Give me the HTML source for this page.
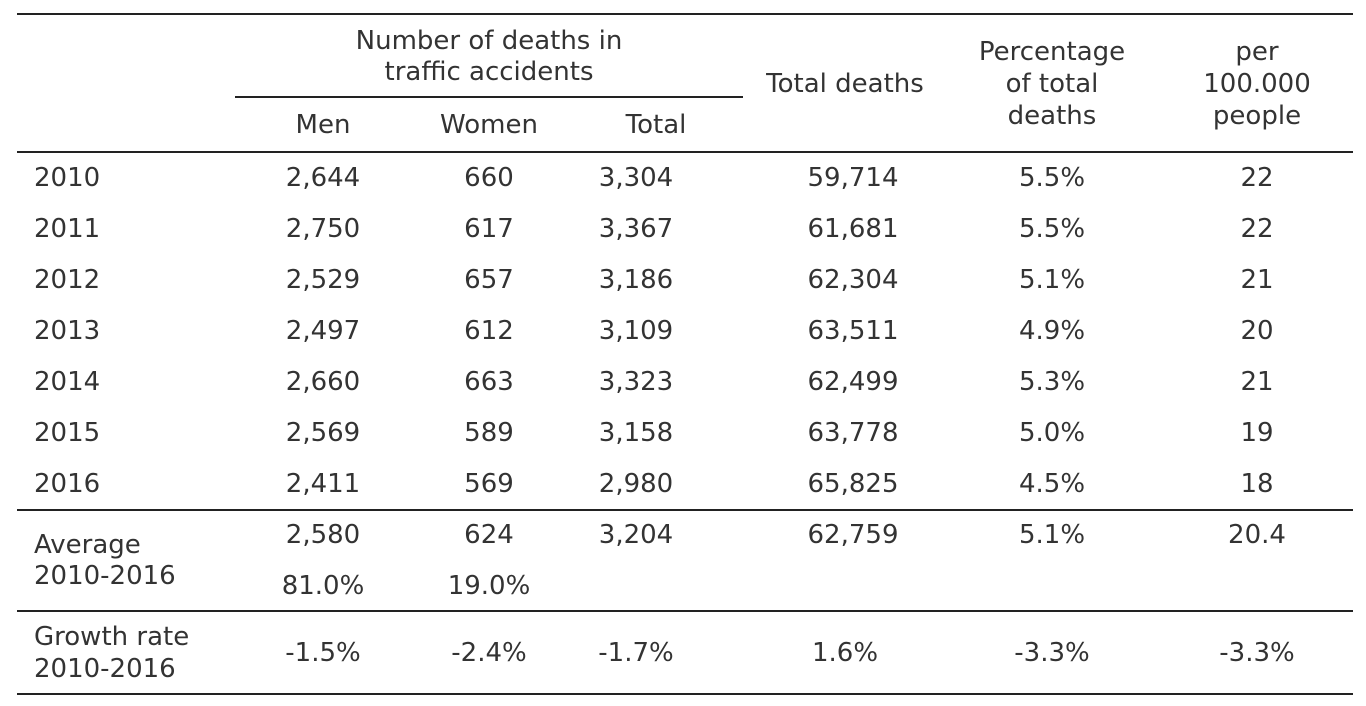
<!DOCTYPE html>
<html><head><meta charset="utf-8">
<style>
html,body{margin:0;padding:0;background:#fff;}
#t{position:relative;width:1366px;height:706px;overflow:hidden;font-family:"DejaVu Sans","Liberation Sans",sans-serif;font-size:26px;color:#333;}
.c{position:absolute;transform:translate(-50%,-50%);white-space:nowrap;line-height:32px;text-align:center;}
.l{position:absolute;transform:translateY(-50%);white-space:nowrap;line-height:32px;}
.h{position:absolute;height:2px;background:#222;}
</style></head>
<body>
<div id="t">
<div class="h" style="left:17px;width:1336px;top:13px"></div>
<div class="h" style="left:235px;width:508px;top:96px"></div>
<div class="h" style="left:17px;width:1336px;top:151px"></div>
<div class="h" style="left:17px;width:1336px;top:509px"></div>
<div class="h" style="left:17px;width:1336px;top:610px"></div>
<div class="h" style="left:17px;width:1336px;top:693px"></div>
</div>
<script>
const years=["2010","2011","2012","2013","2014","2015","2016"];
const men=["2,644","2,750","2,529","2,497","2,660","2,569","2,411"];
const women=["660","617","657","612","663","589","569"];
const totals=["3,304","3,367","3,186","3,109","3,323","3,158","2,980"];
const totalDeaths=["59,714","61,681","62,304","63,511","62,499","63,778","65,825"];
const pct=["5.5%","5.5%","5.1%","4.9%","5.3%","5.0%","4.5%"];
const per100k=["22","22","21","20","21","19","18"];
const avgRow=["2,580","624","3,204","62,759","5.1%","20.4"];
const shareRow=["81.0%","19.0%"];
const growthRow=["-1.5%","-2.4%","-1.7%","1.6%","-3.3%","-3.3%"];
const colX=[323,489,636,853,1052,1257];
const t=document.getElementById('t');
function add(cls,x,y,txt,name){
  const d=document.createElement('div');
  d.className=cls;d.style.left=x+'px';d.style.top=y+'px';d.innerHTML=txt;
  
  
  t.appendChild(d);
}
add('c',489,41,'Number of deaths in','header-group-line1');
add('c',489,72,'traffic accidents','header-group-line2');
add('c',323,125,'Men','header-men');
add('c',489,125,'Women','header-women');
add('c',656,125,'Total','header-total');
add('c',845,84,'Total deaths','header-total-deaths');
add('c',1052,52,'Percentage','header-percentage-1');
add('c',1052,84,'of total','header-percentage-2');
add('c',1052,116,'deaths','header-percentage-3');
add('c',1257,52,'per','header-per-1');
add('c',1257,84,'100.000','header-per-2');
add('c',1257,116,'people','header-per-3');
const cols=[men,women,totals,totalDeaths,pct,per100k];
const colNames=['men','women','total','total-deaths','percentage','per-100k'];
years.forEach((y,i)=>{
  const cy=178+i*51;
  add('l',34,cy,y,'year-'+y);
  cols.forEach((arr,j)=>add('c',colX[j],cy,arr[i],colNames[j]+'-'+y));
});
add('l',34,545,'Average','average-label-1');
add('l',34,576,'2010-2016','average-label-2');
avgRow.forEach((v,j)=>add('c',colX[j],535,v,'average-'+colNames[j]));
shareRow.forEach((v,j)=>add('c',colX[j],586,v,'share-'+colNames[j]));
add('l',34,637,'Growth rate','growth-label-1');
add('l',34,669,'2010-2016','growth-label-2');
growthRow.forEach((v,j)=>add('c',colX[j]+(j==3?-8:0),653,v,'growth-'+colNames[j]));
</script>
</body></html>
